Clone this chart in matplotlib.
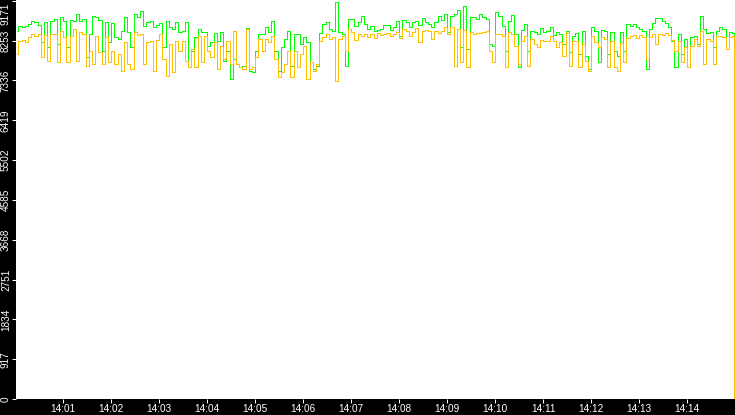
import matplotlib
matplotlib.use("Agg")
import matplotlib.pyplot as plt
from matplotlib.transforms import ScaledTranslation

# ---- data (seconds after 14:00:00, values) ----
green = [
    8482, 8596, 8574, 8596, 8635, 8711, 8673, 8619, 8213, 8673, 8099, 8711, 8750,
    8175, 8803, 8696, 8099, 8727, 8711, 8865, 8711, 8750, 7869, 8405, 8826, 8803,
    8727, 8022, 8673, 8213, 8650, 8328, 8290, 8482, 8788, 8443, 8099, 8865, 8803,
    8941, 8596, 8673, 8711, 8558, 8619, 8650, 8099, 8711, 8558, 8520, 8673, 8443,
    8482, 8673, 7639, 8022, 8328, 8520, 8443, 8443, 8137, 8213, 8420, 8252, 8443,
    7792, 8022, 7371, 7830, 7716, 7639, 7677, 8543, 7562, 7524, 8022, 8405,
    8405, 8558, 8443, 8711, 8022, 7562, 8099, 8290, 8482, 7677, 8405, 8405, 8175,
    8344, 8213, 7754, 7601, 7677, 8420, 8635, 8673, 8520, 8482, 9133, 8443, 8405,
    7677, 8750, 8750, 8596, 8673, 8826, 8635, 8520, 8596, 8482, 8497,
    8520, 8619, 8619, 8497, 8574, 8711, 8367, 8727, 8673, 8574, 8673, 8696, 8619,
    8773, 8673, 8635, 8574, 8673, 8826, 8727, 8865, 8443, 8826, 8865, 8956, 8099,
    9056, 8060, 8788, 8788, 8750, 8865, 8788, 8750, 8175, 8137, 8903, 8826,
    8596, 8022, 8696, 8849, 8405, 7639, 8497, 8635, 8022, 8466, 8443, 8405, 8543,
    8443, 8466, 8574, 8390, 8443, 8405, 8175, 8466, 7984, 8367, 8420, 7945, 8482,
    7907, 7601, 8574, 8466, 7754, 8497, 8482, 7945, 8443, 8022, 7907,
    8443, 8022, 8635, 8596, 8635, 8558, 8520, 8482, 7601, 8520, 8650, 8773, 8773,
    8696, 8650, 8558, 8252, 7639, 8405, 7945, 8290, 7639, 8328, 8367, 8175, 8826,
    8520, 8420, 8443, 8099, 8482, 8574, 8520, 8060, 8443, 8420,
    4170,
]
orange = [
    7945, 8252, 8267, 8213, 8344, 8405, 8367, 8405, 7869, 8390, 7792, 8405, 8405,
    7754, 8466, 8344, 7754, 8367, 8520, 7792, 8443, 8405, 7677, 8022, 7716, 8367,
    7984, 7716, 8328, 7754, 8022, 7716, 7945, 7562, 8213, 7716, 7601, 8443, 8390,
    8405, 7716, 8213, 8252, 7562, 8267, 8405, 7830, 7447, 8175, 7524, 8252, 8022,
    8252, 7792, 7639, 8060, 7639, 8367, 7754, 8367, 8022, 7869, 8213, 7601, 8137,
    7830, 8252, 7716, 8482, 7716, 7639, 7601, 8520, 7601, 7639, 7869, 8290,
    8022, 8290, 8213, 8367, 7830, 7409, 7524, 7716, 8022, 7409, 8022, 7639, 7945,
    8137, 7371, 7754, 7562, 7716, 8252, 8328, 8405, 8290, 8328, 7333, 8290, 8367,
    8022, 8520, 8443, 8267, 8405, 8367, 8405, 8344, 8405, 8313, 8420,
    8390, 8405, 8420, 8367, 8405, 8443, 8313, 8520, 8466, 8367, 8443, 8543, 8213,
    8466, 8497, 8466, 8290, 8466, 8420, 8482, 8558, 8405, 8558, 7677, 8520, 7754,
    8497, 7639, 8443, 8405, 8420, 8420, 8443, 8482, 8022, 7754, 8405, 8405,
    8367, 7639, 8443, 8405, 8137, 7716, 8252, 8367, 7677, 8290, 8175, 8099, 8267,
    8236, 8252, 8367, 8252, 8099, 8213, 7907, 8420, 7677, 8252, 8252, 7639, 8175,
    7792, 7562, 8367, 8213, 8099, 8328, 8290, 7639, 8252, 7639, 7562,
    8190, 7754, 8313, 8367, 8390, 8313, 8390, 8344, 7830, 8328, 8405, 8175, 8405,
    8390, 8428, 8390, 8267, 8022, 8252, 7754, 8099, 7639, 8137, 8290, 8137, 8482,
    7716, 8290, 8252, 7716, 8367, 8367, 8344, 8060, 8328, 8367,
    0,
]
seconds = list(range(2, 899, 4)) + [899.5]

tick_seconds = [60 * m for m in range(1, 15)]
tick_labels = ["14:%02d" % m for m in range(1, 15)]
y_tick_labels = ["0", "917", "1834", "2751", "3668", "4585",
                 "5502", "6419", "7336", "8253", "9171"]
y_tick_values = [int(s) for s in y_tick_labels]

# ---- figure ----
W, H = 735, 415
fig = plt.figure(figsize=(W / 100, H / 100), dpi=100, facecolor="black")
ax = fig.add_axes([16 / W, 16 / H, 719 / W, 399 / H])
ax.set_facecolor("white")
for s in ax.spines.values():
    s.set_visible(False)

ax.plot(seconds, green, color="#00ff00", lw=0.55, drawstyle="steps-mid",
        antialiased=False, zorder=2)
ax.plot(seconds, orange, color="#ffc000", lw=0.55, drawstyle="steps-mid",
        antialiased=False, zorder=3)

ax.set_xlim(0.9, 899.8)
ax.set_ylim(0, 9190)

font = dict(family=["Liberation Sans", "DejaVu Sans"], size=7.2)
ax.set_xticks(tick_seconds)
ax.set_xticklabels(tick_labels, color="white", **font)
ax.set_yticks(y_tick_values)
ax.set_yticklabels(y_tick_labels, color="white", rotation=90, va="center", **font)
ax.tick_params(axis="both", colors="white", length=3.0, width=0.75, direction="out")
ax.tick_params(axis="x", pad=0.6)
ax.tick_params(axis="y", pad=0.6)

labels = ax.get_yticklabels()
labels[-1].set_va("top")
labels[-1].set_transform(labels[-1].get_transform() +
                         ScaledTranslation(0, -2 / 100, fig.dpi_scale_trans))

fig.savefig("out.png", dpi=100, facecolor="black")
